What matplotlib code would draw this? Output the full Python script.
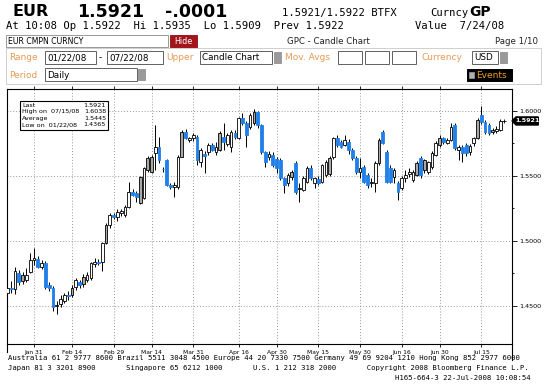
import numpy as np
import pandas as pd
import matplotlib
matplotlib.use("Agg")
import matplotlib.pyplot as plt
import matplotlib.transforms as mtransforms
from matplotlib.patches import Rectangle, Polygon
from matplotlib.lines import Line2D

# daily EUR/USD candles, 22 Jan - 22 Jul 2008
dates = pd.bdate_range("2008-01-22", "2008-07-22")
opens = [1.4600, 1.4640, 1.4625, 1.4755, 1.4690, 1.4700, 1.4760, 1.4850, 1.4862, 1.4800,
         1.4830, 1.4660, 1.4635, 1.4495, 1.4510, 1.4540, 1.4585, 1.4585, 1.4645, 1.4680,
         1.4665, 1.4700, 1.4715, 1.4820, 1.4840, 1.4835, 1.4985, 1.5120, 1.5200, 1.5185,
         1.5215, 1.5200, 1.5260, 1.5378, 1.5365, 1.5290, 1.5330, 1.5540, 1.5530, 1.5675,
         1.5720, 1.5555, 1.5620, 1.5430, 1.5415, 1.5415, 1.5645, 1.5835, 1.5778, 1.5790,
         1.5800, 1.5605, 1.5670, 1.5680, 1.5735, 1.5680, 1.5700, 1.5800, 1.5740, 1.5720,
         1.5830, 1.5790, 1.5945, 1.5905, 1.5875, 1.5905, 1.5990, 1.5890, 1.5680, 1.5645,
         1.5660, 1.5625, 1.5620, 1.5480, 1.5440, 1.5490, 1.5595, 1.5395, 1.5390, 1.5450,
         1.5560, 1.5445, 1.5475, 1.5450, 1.5505, 1.5510, 1.5645, 1.5790, 1.5760, 1.5735,
         1.5760, 1.5698, 1.5636, 1.5525, 1.5567, 1.5505, 1.5440, 1.5444, 1.5597, 1.5835,
         1.5680, 1.5560, 1.5490, 1.5443, 1.5405, 1.5485, 1.5510, 1.5470, 1.5505, 1.5636,
         1.5544, 1.5528, 1.5567, 1.5660, 1.5736, 1.5790, 1.5750, 1.5775, 1.5890, 1.5700,
         1.5720, 1.5736, 1.5680, 1.5750, 1.5790, 1.5967, 1.5913, 1.5890, 1.5837, 1.5840,
         1.5850]
highs = [1.4700, 1.4690, 1.4800, 1.4775, 1.4760, 1.4790, 1.4905, 1.4945, 1.4880, 1.4850,
         1.4845, 1.4680, 1.4650, 1.4540, 1.4580, 1.4600, 1.4610, 1.4660, 1.4715, 1.4700,
         1.4745, 1.4760, 1.4840, 1.4870, 1.4860, 1.4990, 1.5135, 1.5215, 1.5215, 1.5245,
         1.5240, 1.5275, 1.5450, 1.5400, 1.5380, 1.5500, 1.5570, 1.5650, 1.5660, 1.5890,
         1.5800, 1.5570, 1.5630, 1.5445, 1.5450, 1.5660, 1.5850, 1.5860, 1.5800, 1.5830,
         1.5815, 1.5715, 1.5690, 1.5750, 1.5755, 1.5760, 1.5840, 1.5905, 1.5825, 1.5850,
         1.5850, 1.5955, 1.5980, 1.5920, 1.5985, 1.6010, 1.6000, 1.5900, 1.5690, 1.5690,
         1.5680, 1.5640, 1.5635, 1.5490, 1.5520, 1.5545, 1.5610, 1.5445, 1.5500, 1.5575,
         1.5580, 1.5490, 1.5495, 1.5590, 1.5620, 1.5650, 1.5800, 1.5810, 1.5775, 1.5815,
         1.5780, 1.5710, 1.5650, 1.5635, 1.5580, 1.5520, 1.5480, 1.5610, 1.5790, 1.5855,
         1.5700, 1.5580, 1.5560, 1.5460, 1.5495, 1.5545, 1.5560, 1.5540, 1.5615, 1.5650,
         1.5630, 1.5615, 1.5690, 1.5770, 1.5810, 1.5800, 1.5790, 1.5905, 1.5905, 1.5735,
         1.5735, 1.5750, 1.5745, 1.5800, 1.5940, 1.6038, 1.5930, 1.5905, 1.5870, 1.5880,
         1.5935]
lows = [1.4365, 1.4600, 1.4590, 1.4660, 1.4670, 1.4680, 1.4750, 1.4815, 1.4790, 1.4780,
        1.4630, 1.4615, 1.4460, 1.4440, 1.4490, 1.4520, 1.4545, 1.4570, 1.4620, 1.4640,
        1.4645, 1.4680, 1.4700, 1.4795, 1.4810, 1.4770, 1.4975, 1.5100, 1.5170, 1.5150,
        1.5190, 1.5185, 1.5250, 1.5340, 1.5300, 1.5280, 1.5320, 1.5530, 1.5520, 1.5540,
        1.5600, 1.5530, 1.5420, 1.5400, 1.5335, 1.5400, 1.5640, 1.5780, 1.5760, 1.5770,
        1.5580, 1.5570, 1.5520, 1.5660, 1.5690, 1.5660, 1.5690, 1.5700, 1.5730, 1.5680,
        1.5780, 1.5780, 1.5890, 1.5720, 1.5860, 1.5890, 1.5870, 1.5670, 1.5565, 1.5620,
        1.5570, 1.5520, 1.5470, 1.5365, 1.5420, 1.5470, 1.5360, 1.5300, 1.5380, 1.5440,
        1.5470, 1.5405, 1.5430, 1.5440, 1.5490, 1.5500, 1.5630, 1.5720, 1.5710, 1.5725,
        1.5670, 1.5620, 1.5510, 1.5485, 1.5440, 1.5405, 1.5410, 1.5375, 1.5585, 1.5740,
        1.5440, 1.5440, 1.5440, 1.5310, 1.5390, 1.5450, 1.5490, 1.5450, 1.5495, 1.5480,
        1.5520, 1.5515, 1.5555, 1.5650, 1.5720, 1.5740, 1.5740, 1.5765, 1.5700, 1.5620,
        1.5605, 1.5650, 1.5660, 1.5730, 1.5780, 1.5900, 1.5820, 1.5815, 1.5820, 1.5825,
        1.5840]
closes = [1.4640, 1.4625, 1.4770, 1.4680, 1.4735, 1.4740, 1.4850, 1.4865, 1.4800, 1.4830,
          1.4645, 1.4635, 1.4490, 1.4505, 1.4555, 1.4580, 1.4575, 1.4640, 1.4695, 1.4662,
          1.4720, 1.4735, 1.4830, 1.4835, 1.4825, 1.4980, 1.5120, 1.5195, 1.5185, 1.5220,
          1.5225, 1.5260, 1.5375, 1.5350, 1.5335, 1.5490, 1.5560, 1.5635, 1.5645, 1.5720,
          1.5620, 1.5550, 1.5427, 1.5415, 1.5425, 1.5645, 1.5837, 1.5790, 1.5788, 1.5810,
          1.5620, 1.5695, 1.5655, 1.5735, 1.5700, 1.5720, 1.5825, 1.5760, 1.5810, 1.5835,
          1.5795, 1.5940, 1.5905, 1.5815, 1.5965, 1.5990, 1.5890, 1.5680, 1.5606, 1.5670,
          1.5580, 1.5560, 1.5480, 1.5427, 1.5505, 1.5530, 1.5375, 1.5405, 1.5480, 1.5560,
          1.5482, 1.5480, 1.5445, 1.5580, 1.5605, 1.5635, 1.5790, 1.5735, 1.5722, 1.5775,
          1.5698, 1.5636, 1.5528, 1.5560, 1.5452, 1.5428, 1.5450, 1.5597, 1.5775, 1.5752,
          1.5455, 1.5450, 1.5544, 1.5375, 1.5480, 1.5505, 1.5528, 1.5528, 1.5597, 1.5505,
          1.5620, 1.5605, 1.5675, 1.5750, 1.5790, 1.5760, 1.5775, 1.5875, 1.5713, 1.5720,
          1.5675, 1.5675, 1.5730, 1.5790, 1.5929, 1.5913, 1.5837, 1.5828, 1.5852, 1.5862,
          1.5921]
# candles Bloomberg shades grey instead of white
gray_days = [4, 17, 20, 26, 35, 37, 38, 46, 56, 65, 75, 85, 98, 108, 110, 114, 124, 128]

tick_dates = ["2008-01-31", "2008-02-14", "2008-02-29", "2008-03-14", "2008-03-31", "2008-04-16",
              "2008-04-30", "2008-05-15", "2008-05-30", "2008-06-16", "2008-06-30", "2008-07-15"]
tick_labels = ["Jan 31", "Feb 14", "Feb 29", "Mar 14", "Mar 31", "Apr 16",
               "Apr 30", "May 15", "May 30", "Jun 16", "Jun 30", "Jul 15"]
y_ticks = [1.45, 1.50, 1.55, 1.60]

stats = [("Last", "1.5921"), ("High on  07/15/08", "1.6038"),
         ("Average", "1.5445"), ("Low on  01/22/08", "1.4365")]

W, H = 546, 392
BLUE = "#1f80ea"
ORANGE = "#e49a55"
MONO = "DejaVu Sans Mono"


def fx(x):
    return x / W


def fy(y):
    return 1 - y / H


def box(fig, x0, y0, x1, y1, fc="white", ec="#606060", lw=0.7):
    fig.add_artist(Rectangle((fx(x0), fy(y1)), fx(x1) - fx(x0), fy(y0) - fy(y1),
                             transform=fig.transFigure, fc=fc, ec=ec, lw=lw))


plt.rcParams["font.family"] = ["DejaVu Sans"]
fig = plt.figure(figsize=(W / 100, H / 100), dpi=100)
fig.patch.set_facecolor("white")

# ---- header -------------------------------------------------------------
fig.text(fx(12), fy(12), "EUR", fontsize=11.5, fontweight="bold", va="center")
fig.text(fx(77), fy(12), "1.5921", fontsize=12.5, fontweight="bold", va="center")
fig.text(fx(165), fy(12), "-.0001", fontsize=12.5, fontweight="bold", va="center")
fig.text(fx(282), fy(13), "1.5921/1.5922 BTFX", family=MONO, fontsize=7.6, va="center")
fig.text(fx(430), fy(13), "Curncy", family=MONO, fontsize=7.6, va="center")
fig.text(fx(469), fy(12), "GP", fontsize=10, fontweight="bold", va="center")
fig.text(fx(6), fy(26), "At 10:08 Op 1.5922  Hi 1.5935  Lo 1.5909  Prev 1.5922",
         family=MONO, fontsize=7.6, va="center")
fig.text(fx(415), fy(26), "Value  7/24/08", family=MONO, fontsize=7.6, va="center")

box(fig, 6, 35, 168, 47, ec="#888888", lw=0.6)
fig.text(fx(8), fy(41), "EUR CMPN CURNCY", fontsize=5.6, va="center")
box(fig, 170, 35, 197, 47, fc="#a3151d", ec="#a3151d")
fig.text(fx(183.5), fy(41), "Hide", fontsize=5.8, color="white", ha="center", va="center")
fig.text(fx(287), fy(41.5), "GPC - Candle Chart", fontsize=6.2, color="#222222", va="center")
fig.text(fx(495), fy(42), "Page 1/10", fontsize=6.2, color="#222222", va="center")

box(fig, 6, 48, 541, 84, fc="none", ec="#c8c8c8", lw=0.6)
for lab, x in [("Range", 9), ("Upper", 166), ("Mov. Avgs", 285), ("Currency", 421)]:
    fig.text(fx(x), fy(58), lab, fontsize=6.5, color=ORANGE, va="center")
fig.text(fx(9), fy(75), "Period", fontsize=6.5, color=ORANGE, va="center")
for (x0, x1, txt) in [(45, 96, "01/22/08"), (107, 163, "07/22/08"), (200, 272, "Candle Chart"),
                      (338, 362, ""), (365, 389, ""), (392, 416, ""), (472, 498, "USD")]:
    box(fig, x0, 51, x1, 64)
    fig.text(fx(x0 + 2), fy(58), txt, fontsize=6.3, va="center")
fig.text(fx(99), fy(58), "-", fontsize=6.5, va="center")
box(fig, 45, 68, 137, 81)
fig.text(fx(47), fy(75), "Daily", fontsize=6.3, va="center")
for x0 in [274, 500]:
    box(fig, x0, 52, x0 + 7, 63, fc="#9a9a9a", ec="#9a9a9a")
box(fig, 138, 69, 145, 80, fc="#9a9a9a", ec="#9a9a9a")
box(fig, 467, 69, 512, 81, fc="black", ec="black")
box(fig, 469, 72, 474, 78, fc="#b0b0b0", ec="#b0b0b0", lw=0.4)
fig.text(fx(476), fy(75), "Events", fontsize=6.5, color="#f0a020", va="center")

# ---- candle chart -------------------------------------------------------
ax = fig.add_axes([fx(7), fy(344), fx(512) - fx(7), fy(89) - fy(344)])
x = np.arange(len(dates))
o = np.array(opens)
c = np.array(closes)
faces, edges = [], []
for i in range(len(x)):
    if i in gray_days:
        faces.append("#a9a9a9"); edges.append("black")
    elif c[i] < o[i]:
        faces.append(BLUE); edges.append(BLUE)
    else:
        faces.append("white"); edges.append("black")
bottoms = np.minimum(o, c)
heights = np.maximum(np.abs(c - o), 0.0004)

ax.vlines(x, lows, highs, color="black", lw=0.7, zorder=2)
ax.bar(x, heights, bottom=bottoms, width=0.72, color=faces, edgecolor=edges,
       linewidth=0.6, zorder=3)
ax.plot(x[-1] + 0.9, closes[-1], marker="+", ms=3, mew=0.6, color="black",
        clip_on=False, zorder=4)

ax.set_xlim(-0.13, 133.1)
ax.set_ylim(1.42054, 1.61669)

tick_pos = dates.get_indexer(pd.to_datetime(tick_dates))
ax.set_xticks(tick_pos)
ax.set_xticklabels(tick_labels, fontsize=4.3)
shift = mtransforms.ScaledTranslation(-4 / 100, 0, fig.dpi_scale_trans)
for lab in ax.get_xticklabels():
    lab.set_transform(lab.get_transform() + shift)
ax.tick_params(axis="x", direction="out", length=2.5, width=0.6, pad=1.5, top=True)

ax.yaxis.tick_right()
ax.set_yticks(y_ticks)
ax.set_yticklabels([f"{v:.4f}" for v in y_ticks], fontsize=4.6)
ax.set_yticks([1.475, 1.525, 1.575], minor=True)
ax.tick_params(axis="y", which="major", direction="out", length=3.5, width=0.6, pad=1.5)
ax.tick_params(axis="y", which="minor", direction="out", length=1.5, width=0.6)

ax.grid(True, which="major", linestyle=(0, (1, 2.5)), color="#777777", lw=0.6)
for s in ax.spines.values():
    s.set_linewidth(0.8)
    s.set_color("black")

# stats box
ax.add_patch(Rectangle((0.0257, 0.839), 0.1743, 0.114, transform=ax.transAxes,
                       fc="white", ec="black", lw=0.8, zorder=5))
for k, (lab, val) in enumerate(stats):
    yy = 0.937 - k * 0.0255
    ax.text(0.0297, yy, lab, transform=ax.transAxes, fontsize=4.6, va="center", zorder=6)
    ax.text(0.196, yy, val, transform=ax.transAxes, fontsize=4.6, va="center",
            ha="right", zorder=6)

# last price tag on the right axis
bt = mtransforms.blended_transform_factory(ax.transAxes, ax.transData)
last = closes[-1]
tag = Polygon([(1.0, last), (1.008, last + 0.0031), (1.052, last + 0.0031),
               (1.052, last - 0.0031), (1.008, last - 0.0031)],
              closed=True, transform=bt, fc="black", ec="black", clip_on=False, zorder=6)
ax.add_patch(tag)
ax.text(1.031, last, f"{last:.4f}", transform=bt, fontsize=4.6, color="white",
        fontweight="bold", ha="center", va="center", zorder=7, clip_on=False)

# frame lines running below the axis strip
fig.add_artist(Line2D([fx(7), fx(7)], [fy(344), fy(352)], color="black", lw=0.8))
fig.add_artist(Line2D([fx(512), fx(512)], [fy(344), fy(360)], color="black", lw=0.8))

# ---- footer -------------------------------------------------------------
fig.text(fx(8), fy(358), "Australia 61 2 9777 8600 Brazil 5511 3048 4500 Europe 44 20 7330 7500 "
         "Germany 49 69 9204 1210 Hong Kong 852 2977 6000", family=MONO, fontsize=5.25, va="center")
fig.text(fx(8), fy(368), "Japan 81 3 3201 8900       Singapore 65 6212 1000       "
         "U.S. 1 212 318 2000       Copyright 2008 Bloomberg Finance L.P.",
         family=MONO, fontsize=5.25, va="center")
fig.text(fx(531), fy(378), "H165-664-3 22-Jul-2008 10:08:54", family=MONO, fontsize=5.25,
         va="center", ha="right")

fig.savefig("out.png", dpi=100)
